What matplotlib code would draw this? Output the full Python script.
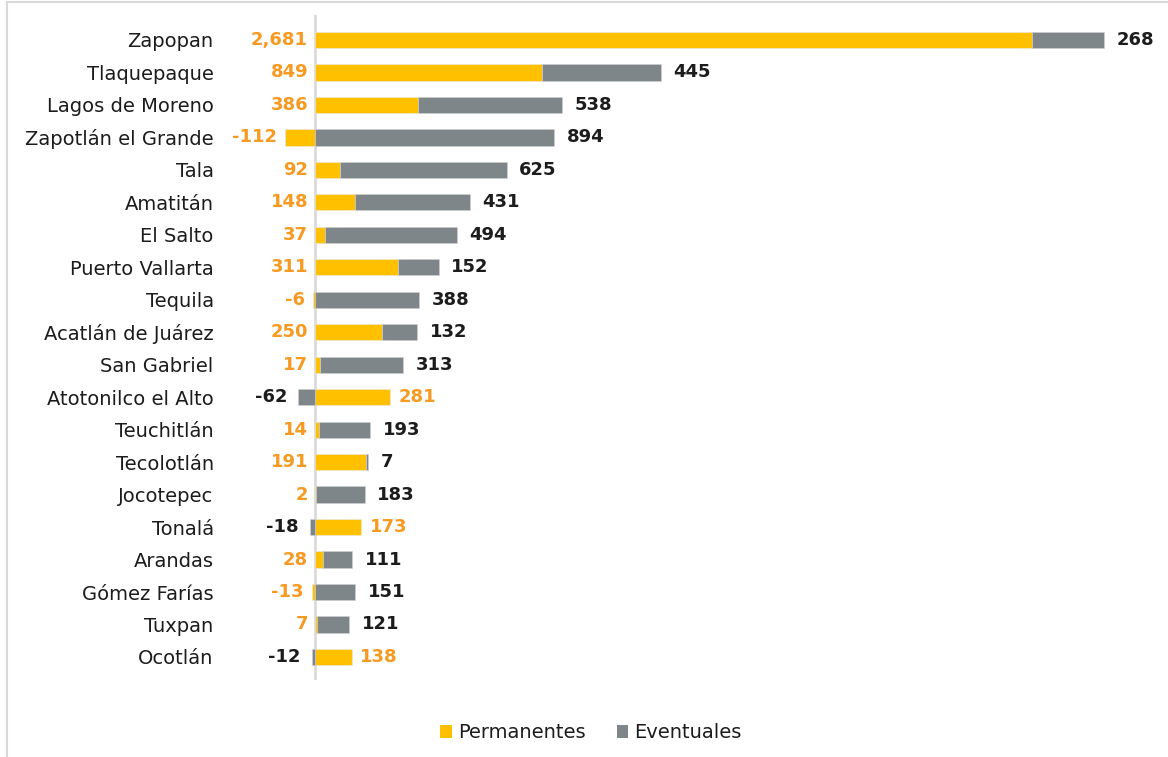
import matplotlib.pyplot as plt
from matplotlib.patches import Patch
from matplotlib.lines import Line2D

municipios = ['Zapopan', 'Tlaquepaque', 'Lagos de Moreno', 'Zapotlán el Grande', 'Tala',
              'Amatitán', 'El Salto', 'Puerto Vallarta', 'Tequila', 'Acatlán de Juárez',
              'San Gabriel', 'Atotonilco el Alto', 'Teuchitlán', 'Tecolotlán', 'Jocotepec',
              'Tonalá', 'Arandas', 'Gómez Farías', 'Tuxpan', 'Ocotlán']
permanentes = [2681, 849, 386, -112, 92, 148, 37, 311, -6, 250,
               17, 281, 14, 191, 2, 173, 28, -13, 7, 138]
eventuales = [268, 445, 538, 894, 625, 431, 494, 152, 388, 132,
              313, -62, 193, 7, 183, -18, 111, 151, 121, -12]

amarillo = '#FFC000'
gris = '#7F868A'
naranja = '#F79A22'
negro = '#1C1C1C'

plt.rcParams['font.family'] = ['DejaVu Sans']

fig = plt.figure(figsize=(11.68, 7.57), dpi=100)
ax = fig.add_axes([0.2055, 0.1017, 0.7877, 0.8785])

y = list(range(len(municipios)))
alto = 0.5

# segmento permanente: desde cero hacia su signo
ax.barh(y, permanentes, height=alto, color=amarillo, edgecolor='#E8E8E8', linewidth=0.4)

# segmento eventual: se apila sobre el permanente si ambos tienen el mismo signo
base_ev = []
for p, e in zip(permanentes, eventuales):
    if e >= 0:
        base_ev.append(max(p, 0))
    else:
        base_ev.append(min(p, 0))
ax.barh(y, eventuales, left=base_ev, height=alto, color=gris, edgecolor='#D0D0D0', linewidth=0.4)

ax.axvline(0, color='#DADADA', lw=2, zorder=0)

fs = 13
for i, (p, e, b) in enumerate(zip(permanentes, eventuales, base_ev)):
    # etiqueta de permanentes
    if p < 0:
        ax.annotate(f'{p:,}', (p, i), xytext=(-6, 0), textcoords='offset points',
                    ha='right', va='center', color=naranja, fontsize=fs, fontweight='bold')
    elif e < 0:
        ax.annotate(f'{p:,}', (p, i), xytext=(6, 0), textcoords='offset points',
                    ha='left', va='center', color=naranja, fontsize=fs, fontweight='bold')
    else:
        ax.annotate(f'{p:,}', (0, i), xytext=(-5, 0), textcoords='offset points',
                    ha='right', va='center', color=naranja, fontsize=fs, fontweight='bold')
    # etiqueta de eventuales
    if e >= 0:
        ax.annotate(f'{e:,}', (b + e, i), xytext=(9, 0), textcoords='offset points',
                    ha='left', va='center', color=negro, fontsize=fs, fontweight='bold')
    else:
        ax.annotate(f'{e:,}', (b + e, i), xytext=(-8, 0), textcoords='offset points',
                    ha='right', va='center', color=negro, fontsize=fs, fontweight='bold')

ax.set_xlim(-280.4, 3158.9)
ax.set_ylim(19.71, -0.77)
ax.set_xticks([])
ax.set_yticks(y)
ax.set_yticklabels(municipios, fontsize=14, color=negro)
ax.tick_params(axis='y', length=0, pad=19)
for s in ax.spines.values():
    s.set_visible(False)

manejadores = [Patch(facecolor=amarillo, label='Permanentes'),
               Patch(facecolor=gris, label='Eventuales')]
fig.legend(handles=manejadores, loc='center', bbox_to_anchor=(0.506, 0.032), ncol=2,
           frameon=False, fontsize=14, handlelength=0.6, handleheight=0.6,
           handletextpad=0.3, columnspacing=1.6, labelcolor=negro)

# marco gris claro del gráfico
fig.add_artist(Line2D([0.006, 0.006], [0, 0.997], color='#D9D9D9', lw=1.5))
fig.add_artist(Line2D([0.006, 1], [0.997, 0.997], color='#D9D9D9', lw=1.5))

fig.savefig('out.png', dpi=100)
